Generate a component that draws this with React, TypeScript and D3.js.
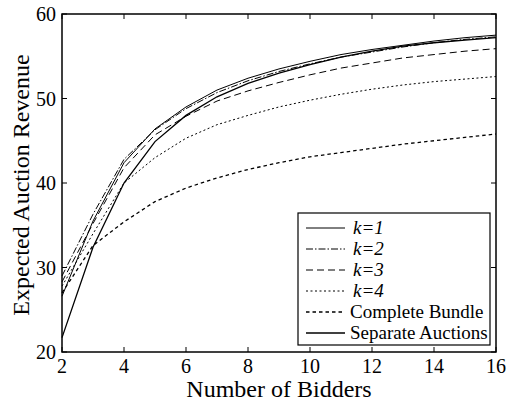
import * as d3 from "d3";

const bidders = [2, 3, 4, 5, 6, 7, 8, 9, 10, 11, 12, 13, 14, 15, 16];

const k1 = [26.6, 35.5, 42.4, 46.4, 49.0, 51.0, 52.4, 53.5, 54.4, 55.2, 55.8, 56.3, 56.8, 57.2, 57.5];
const k2 = [29.0, 36.3, 42.8, 46.3, 48.8, 50.7, 52.1, 53.2, 54.1, 54.9, 55.5, 56.1, 56.6, 57.0, 57.3];
const k3 = [28.3, 35.2, 41.8, 45.7, 47.9, 49.7, 50.9, 51.9, 52.8, 53.6, 54.2, 54.8, 55.2, 55.6, 55.9];
const k4 = [27.8, 34.0, 40.0, 43.0, 45.3, 46.9, 48.0, 49.0, 49.8, 50.5, 51.1, 51.6, 52.0, 52.3, 52.6];
const completeBundle = [27.0, 32.6, 35.4, 37.8, 39.4, 40.6, 41.6, 42.4, 43.1, 43.6, 44.1, 44.6, 45.0, 45.4, 45.8];
const separateAuctions = [21.7, 32.4, 40.0, 44.9, 48.0, 50.2, 51.8, 53.0, 54.0, 54.9, 55.6, 56.2, 56.6, 56.9, 57.2];

const xTicks = [2, 4, 6, 8, 10, 12, 14, 16];
const yTicks = [20, 30, 40, 50, 60];

const series = [
  { label: "k=1", italic: true, values: k1, dash: "none", width: 1 },
  { label: "k=2", italic: true, values: k2, dash: "7,2,1.5,2", width: 1 },
  { label: "k=3", italic: true, values: k3, dash: "7,4", width: 1 },
  { label: "k=4", italic: true, values: k4, dash: "2,2.5", width: 1 },
  { label: "Complete Bundle", italic: false, values: completeBundle, dash: "3.5,3", width: 1.3 },
  { label: "Separate Auctions", italic: false, values: separateAuctions, dash: "none", width: 1.3 },
];

const W = 509;
const H = 401;
const m = { left: 62, right: 496, top: 14, bottom: 352 };
const font = "'Liberation Serif', 'Times New Roman', serif";

export default function App() {
  const x = d3.scaleLinear().domain([2, 16]).range([m.left, m.right]);
  const y = d3.scaleLinear().domain([20, 60]).range([m.bottom, m.top]);

  const line = (vals: number[]) =>
    d3.line<number>()
      .x((_, i) => x(bidders[i]))
      .y((d) => y(d))(vals) || "";

  const tl = 5;
  const legX = 298, legY = 213, legW = 192, legH = 132;

  return (
    <svg width={W} height={H} style={{ position: "absolute", left: 0, top: 0, background: "#fff", fontFamily: font }}>
      <rect x={0} y={0} width={W} height={H} fill="#fff" />
      {series.map((s, i) => (
        <path
          key={i}
          d={line(s.values)}
          fill="none"
          stroke="#000"
          strokeWidth={s.width}
          strokeDasharray={s.dash}
        />
      ))}
      {/* ticks */}
      {xTicks.map((t) => (
        <g key={"x" + t}>
          <line x1={x(t)} x2={x(t)} y1={m.bottom} y2={m.bottom - tl} stroke="#000" />
          <line x1={x(t)} x2={x(t)} y1={m.top} y2={m.top + tl} stroke="#000" />
          <text x={x(t)} y={373} textAnchor="middle" fontSize={20}>{t}</text>
        </g>
      ))}
      {yTicks.map((t) => (
        <g key={"y" + t}>
          <line x1={m.left} x2={m.left + tl} y1={y(t)} y2={y(t)} stroke="#000" />
          <line x1={m.right} x2={m.right - tl} y1={y(t)} y2={y(t)} stroke="#000" />
          <text x={56} y={y(t) + 7} textAnchor="end" fontSize={20}>{t}</text>
        </g>
      ))}
      <rect x={m.left} y={m.top} width={m.right - m.left} height={m.bottom - m.top} fill="none" stroke="#000" strokeWidth={1.5} />
      <text x={(m.left + m.right) / 2} y={397} textAnchor="middle" fontSize={24}>Number of Bidders</text>
      <text
        transform={`translate(29, 185) rotate(-90)`}
        textAnchor="middle"
        fontSize={24}
      >Expected Auction Revenue</text>
      {/* legend */}
      <rect x={legX} y={legY} width={legW} height={legH} fill="#fff" stroke="#000" strokeWidth={1.2} />
      {series.map((s, i) => {
        const ly = 228 + i * 21;
        return (
          <g key={"l" + i}>
            <line x1={306} x2={345} y1={ly} y2={ly} stroke="#000" strokeWidth={s.width} strokeDasharray={s.dash} />
            <text
              x={s.italic ? 353 : 350}
              y={ly + 6}
              fontSize={19}
              fontStyle={s.italic ? "italic" : "normal"}
            >{s.label}</text>
          </g>
        );
      })}
    </svg>
  );
}
